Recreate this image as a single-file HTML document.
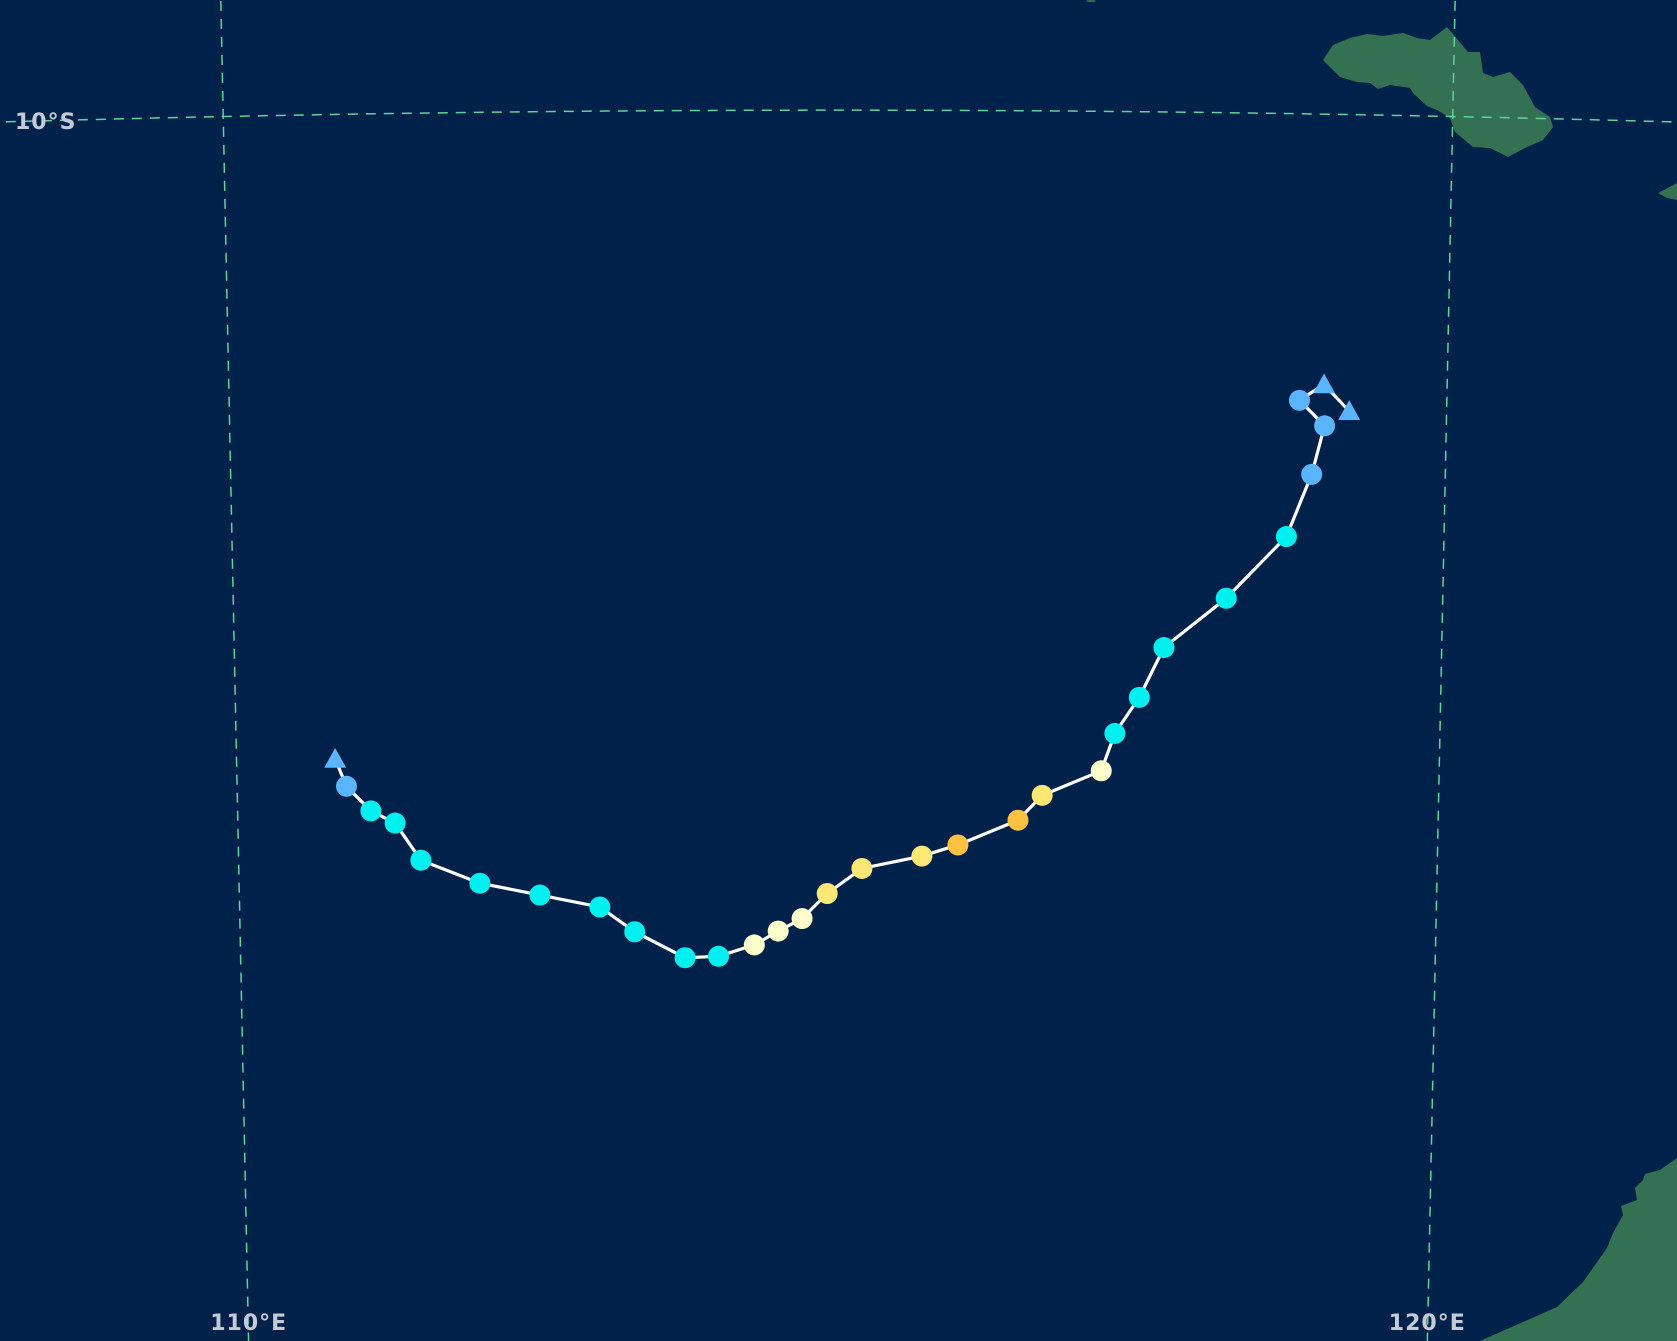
<!DOCTYPE html>
<html><head><meta charset="utf-8"><style>
html,body{margin:0;padding:0;background:#00224a;overflow:hidden;width:1677px;height:1341px;}
svg{display:block;}
text{font-family:"DejaVu Sans","Liberation Sans",sans-serif;fill:#c5cbd6;font-size:22px;font-weight:bold;letter-spacing:1px;}
</style></head><body>
<svg id="map" width="1677" height="1341" viewBox="0 0 1677 1341" xmlns="http://www.w3.org/2000/svg">
<rect x="0" y="0" width="1677" height="1341" fill="#00224a"/>
<g id="land" fill="#337152">
<polygon points="1323,60 1333,45 1350,38 1367,34 1383,36 1403,33 1417,38 1430,40 1447,27 1468,52 1480,52 1483,73 1493,77 1510,72 1523,85 1535,107 1550,117 1553,127 1543,140 1527,147 1508,157 1490,148 1473,147 1455,132 1450,118 1437,110 1427,106 1413,93 1410,88 1390,85 1378,89 1370,83 1357,82 1340,77 1330,67"/>
<polygon points="1658,193 1677,183 1677,200 1667,198"/>
<polygon points="1480,1341 1557,1307 1583,1282 1607,1248 1613,1233 1623,1215 1621,1206 1637,1200 1635,1188 1643,1180 1645,1174 1660,1170 1677,1158 1677,1341"/>
<ellipse cx="1091" cy="1" rx="5" ry="1"/>
</g>
<g id="grid"></g>
<g id="track"></g>
<g id="labels"></g>
</svg>
<script>
const lons = [110.82,110.91,111.11,111.31,111.52,112.01,112.51,113.01,113.30,113.72,114.00,114.30,114.50,114.70,114.91,115.20,115.70,116.00,116.50,116.70,117.19,117.30,117.50,117.70,118.21,118.70,118.90,119.00,118.79,118.99,119.20];
const lats = [-15.15,-15.37,-15.57,-15.67,-15.97,-16.16,-16.26,-16.36,-16.56,-16.77,-16.76,-16.67,-16.56,-16.46,-16.26,-16.06,-15.96,-15.87,-15.67,-15.47,-15.27,-14.97,-14.68,-14.28,-13.88,-13.38,-12.88,-12.49,-12.29,-12.16,-12.37];
const categories = ['LO','TD','TS','TS','TS','TS','TS','TS','TS','TS','TS','C1','C1','C1','C2','C2','C2','C3','C3','C2','C1','TS','TS','TS','TS','TS','TD','TD','TD','LO','LO'];
const meridians = [110,120];
const parallels = [-10];
const meridianLabels = ['110°E','120°E'];
const parallelLabels = ['10°S'];

const S = 1677/1568;
function proj(lon, lat){
  const r = 27750 - ((-lat) - 10) * 117;
  const th = (lon - 115) * 0.004143;
  return [(783.5 + r*Math.sin(th))*S, (27853 - r*Math.cos(th))*S];
}
const colors = {LO:'#5ab4ff',TD:'#5ab4ff',TS:'#00f0f0',C1:'#ffffcc',C2:'#ffe775',C3:'#ffc140'};
const NS='http://www.w3.org/2000/svg';
const grid=document.getElementById('grid');
meridians.forEach((m,i)=>{
  let pts=[];for(let la=-8.5;la>=-20;la-=0.5){pts.push(proj(m,la).join(','));}
  const p=document.createElementNS(NS,'polyline');
  p.setAttribute('points',pts.join(' '));
  p.setAttribute('fill','none');p.setAttribute('stroke','#5fd39a');p.setAttribute('stroke-width','1.5');p.setAttribute('stroke-dasharray','10,8');
  
  
  grid.appendChild(p);
});
parallels.forEach((pa,i)=>{
  let pts=[];for(let lo=107.5;lo<=122.5;lo+=0.25){pts.push(proj(lo,pa).join(','));}
  const p=document.createElementNS(NS,'polyline');
  p.setAttribute('points',pts.join(' '));
  p.setAttribute('fill','none');p.setAttribute('stroke','#5fd39a');p.setAttribute('stroke-width','1.5');p.setAttribute('stroke-dasharray','10,8');
  
  
  grid.appendChild(p);
});
const labels=document.getElementById('labels');
meridians.forEach((m,i)=>{
  const bx = proj(m,-19.83)[0];
  const t=document.createElementNS(NS,'text');
  t.setAttribute('x',bx);t.setAttribute('y',1330);t.setAttribute('text-anchor','middle');
  t.textContent=meridianLabels[i];
  
  
  labels.appendChild(t);
});
parallels.forEach((pa,i)=>{
  const t=document.createElementNS(NS,'text');
  t.setAttribute('x',15);t.setAttribute('y',129);
  t.textContent=parallelLabels[i];
  
  
  labels.appendChild(t);
});
const track=document.getElementById('track');
const pts=lons.map((lo,i)=>proj(lo,lats[i]));
const line=document.createElementNS(NS,'polyline');
line.setAttribute('points',pts.map(p=>p.join(',')).join(' '));
line.setAttribute('fill','none');line.setAttribute('stroke','#ffffff');line.setAttribute('stroke-width','3.2');


track.appendChild(line);
pts.forEach((p,i)=>{
  const c=categories[i];let el;
  if(c==='LO'){
    el=document.createElementNS(NS,'polygon');
    const s=11;
    el.setAttribute('points',`${p[0]},${p[1]-s} ${p[0]-s},${p[1]+s*0.8} ${p[0]+s},${p[1]+s*0.8}`);
    
  } else {
    el=document.createElementNS(NS,'circle');
    el.setAttribute('cx',p[0]);el.setAttribute('cy',p[1]);el.setAttribute('r',10.5);
    
  }
  
  el.setAttribute('fill',colors[c]);
  track.appendChild(el);
});
</script>
</body></html>
